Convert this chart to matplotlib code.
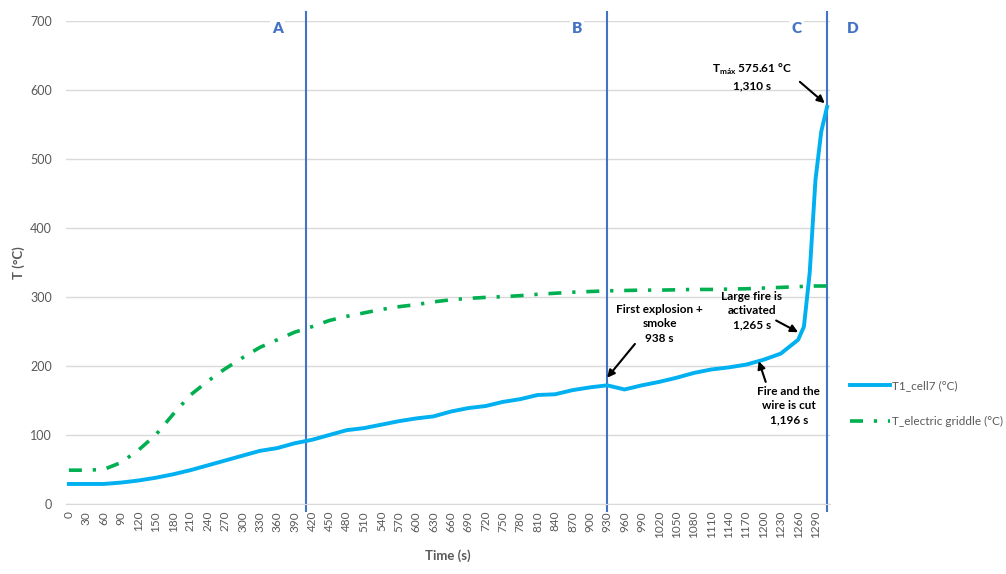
import numpy as np
import matplotlib
matplotlib.use("Agg")
import matplotlib.pyplot as plt

plt.rcParams["font.family"] = ["Lato", "DejaVu Sans"]

# TEMPERATURE RECORDS
time_s = [0, 30, 60, 90, 120, 150, 180, 210, 240, 270, 300, 330, 360, 390,
          420, 450, 480, 510, 540, 570, 600, 630, 660, 690, 720, 750, 780,
          810, 840, 870, 900, 930, 960, 990, 1020, 1050, 1080, 1110, 1140,
          1170, 1200, 1230, 1260, 1270, 1280, 1290, 1300, 1310]

t1_cell7 = [29, 29, 29, 31, 34, 38, 43, 49, 56, 63, 70, 77, 81, 88,
            93, 100, 107, 110, 115, 120, 124, 127, 134, 139, 142, 148, 152,
            158, 159, 165, 169, 172, 166, 172, 177, 183, 190, 195, 198,
            202, 209, 218, 238, 257, 335, 470, 540, 575.61]

t_griddle = [49, 49, 50, 60, 78, 100, 130, 158, 178, 196, 212, 227, 238, 249,
             257, 266, 272, 277, 282, 286, 289, 293, 296, 298, 299.5, 300.5, 302,
             304, 305.5, 307, 308, 309, 309.5, 310, 310, 310.5, 311, 311, 311.5,
             312, 313, 314, 315, 315.5, 316, 316, 316, 316]

stage_times = [410, 930, 1310]
stage_names = ["A", "B", "C", "D"]
x_ticks = list(range(0, 1291, 30))

grey = "#595959"
stage_blue = "#4472C4"

fig = plt.figure(figsize=(10.06, 5.74), dpi=100)
ax = fig.add_axes([0.0656, 0.122, 0.7594, 0.8412])

ax.plot(time_s, t1_cell7, color="#00B0F0", lw=2.8, label="T1_cell7 (°C)",
        solid_joinstyle="round", zorder=3)
ax.plot(time_s, t_griddle, color="#00B050", lw=2.6, label="T_electric griddle (°C)",
        linestyle=(0, (3.6, 3.0, 0.9, 3.0)), dash_capstyle="butt", zorder=3)

# STAGE BOUNDARIES
for t in stage_times:
    ax.plot([t, t], [-10, 713], color=stage_blue, lw=1.5, clip_on=False, zorder=2)

for name, xpos in zip(stage_names, [361, 878, 1257, 1354]):
    ax.text(xpos, 690, name, color=stage_blue, fontsize=11, fontweight="heavy",
            ha="center", va="center", clip_on=False, zorder=4,
            bbox=dict(facecolor="white", edgecolor="none", pad=1.5))

# AXES
ax.set_xlim(-5, 1315)
ax.set_ylim(0, 700)
ax.set_yticks(np.arange(0, 701, 100))
ax.set_xticks(x_ticks)
ax.set_xticklabels([str(v) for v in x_ticks], rotation=90)
ax.tick_params(axis="both", length=0, colors=grey)
ax.tick_params(axis="y", pad=10, labelsize=9)
ax.tick_params(axis="x", pad=5, labelsize=8.5)
ax.grid(axis="y", color="#D9D9D9", lw=1)
ax.set_axisbelow(True)
for side in ["top", "right", "left"]:
    ax.spines[side].set_visible(False)
ax.spines["bottom"].set_color("#D9D9D9")

ax.set_xlabel("Time (s)", fontsize=9.5, fontweight="bold", color=grey, labelpad=8)
ax.set_ylabel("T (°C)", fontsize=9.5, fontweight="bold", color=grey, labelpad=4)

# EVENT ANNOTATIONS
note = dict(fontsize=8.5, fontweight="bold", color="black", ha="center",
            va="center", linespacing=1.35)
arrow = dict(arrowstyle="-|>", color="black", lw=1.5, mutation_scale=11,
             shrinkA=0, shrinkB=0)

ax.annotate("", xy=(1306, 581), xytext=(1263, 612), arrowprops=arrow,
            annotation_clip=False)
ax.text(1180, 619, "T$_{\\mathregular{máx}}$ 575.61 °C\n1,310 s", **note)

ax.annotate("", xy=(930, 183), xytext=(978, 232), arrowprops=arrow)
ax.text(1021, 261, "First explosion +\nsmoke\n938 s", **note)

ax.annotate("", xy=(1260, 249), xytext=(1222, 266), arrowprops=arrow)
ax.text(1180, 280, "Large fire is\nactivated\n1,265 s", **note)

ax.annotate("", xy=(1192, 207), xytext=(1204, 177), arrowprops=arrow)
ax.text(1244, 143, "Fire and the\nwire is cut\n1,196 s", **note)

ax.legend(loc="center left", bbox_to_anchor=(0.834, 0.297),
          bbox_transform=fig.transFigure, frameon=False, fontsize=8.5,
          handlelength=3.4, handletextpad=0.2, labelspacing=2.1,
          labelcolor=grey)

fig.savefig("out.png", dpi=100)
